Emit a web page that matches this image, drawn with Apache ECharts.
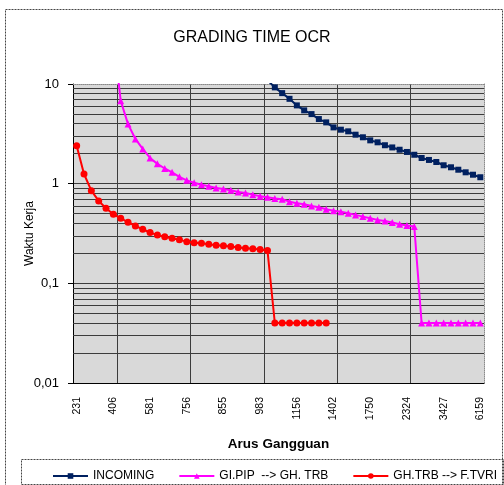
<!DOCTYPE html>
<html>
<head>
<meta charset="utf-8">
<script src="https://cdn.jsdelivr.net/npm/echarts@6/dist/echarts.min.js"></script>
<style>
  html, body { margin: 0; padding: 0; background: #fff; }
  #chart { width: 504px; height: 485px; }
</style>
</head>
<body>
<div id="chart"></div>
<script>
// x axis: 56 categories, label shown on every 5th one
const tickLabels = ['231', '406', '581', '756', '855', '983', '1156', '1402', '1750', '2324', '3427', '6159'];
const categories = [];
for (let i = 0; i < 56; i++) categories.push(String(i));

// minor log grid lines (2..9 of each decade)
const minorGrid = [0.02, 0.03, 0.04, 0.05, 0.06, 0.07, 0.08, 0.09,
  0.2, 0.3, 0.4, 0.5, 0.6, 0.7, 0.8, 0.9,
  2, 3, 4, 5, 6, 7, 8, 9];

const incoming = [
  null, null, null, null, null, null, null, null, null, null,
  null, null, null, null, null, null, null, null, null, null,
  null, null, null, null, null, null,
  10.9, 9.25, 8.1, 7.1, 6.1, 5.44, 4.99, 4.45, 4.12, 3.67,
  3.48, 3.35, 3.10, 2.92, 2.72, 2.60, 2.43, 2.31, 2.19, 2.08,
  1.95, 1.81, 1.73, 1.65, 1.53, 1.46, 1.38, 1.30, 1.23, 1.16
];

const giPip = [
  null, null, null, null, null,
  30, 6.79, 3.96, 2.81, 2.23, 1.81, 1.58, 1.42, 1.30, 1.17,
  1.08, 1.02, 0.977, 0.94, 0.906, 0.885, 0.859, 0.826, 0.807, 0.776,
  0.748, 0.731, 0.711, 0.698, 0.66, 0.636, 0.622, 0.598, 0.58, 0.554,
  0.536, 0.524, 0.505, 0.486, 0.467, 0.45, 0.433, 0.423, 0.407, 0.392,
  0.38, 0.371,
  0.04, 0.04, 0.04, 0.04, 0.04, 0.04, 0.04, 0.04, 0.04
];

const ghTrb = [
  2.40, 1.25, 0.851, 0.671, 0.567, 0.493, 0.45, 0.41, 0.377, 0.349,
  0.323, 0.306, 0.294, 0.284, 0.273, 0.262, 0.256, 0.253, 0.247, 0.241,
  0.238, 0.234, 0.229, 0.225, 0.222, 0.218, 0.213,
  0.04, 0.04, 0.04, 0.04, 0.04, 0.04, 0.04, 0.04,
  null, null, null, null, null, null, null, null, null, null,
  null, null, null, null, null, null, null, null, null, null, null
];

const gridColor = '#3c3c3c';
const chart = echarts.init(document.getElementById('chart'));

chart.setOption({
  animation: false,
  textStyle: { fontFamily: 'Liberation Sans, Arial, sans-serif' },
  title: {
    text: 'GRADING TIME OCR',
    left: 'center',
    top: 25,
    textStyle: { fontSize: 16, fontWeight: 'normal', color: '#000' }
  },
  grid: {
    left: 73, right: 20, top: 84, bottom: 102,
    show: true, backgroundColor: '#d9d9d9', borderWidth: 0
  },
  legend: {
    left: 47, top: 465,
    itemWidth: 35, itemHeight: 7, itemGap: 24,
    textStyle: { fontSize: 12, color: '#000' },
    data: ['INCOMING', 'GI.PIP  --> GH. TRB', 'GH.TRB --> F.TVRI']
  },
  xAxis: [{
    type: 'category',
    boundaryGap: true,
    data: categories,
    name: 'Arus Gangguan',
    nameLocation: 'middle',
    nameGap: 54,
    nameMoveOverlap: false,
    nameTextStyle: { fontSize: 13.5, fontWeight: 'bold', color: '#000' },
    axisLine: { lineStyle: { color: '#000', width: 1 } },
    axisTick: { interval: i => i % 5 === 1, length: 4, lineStyle: { color: '#000' } },
    axisLabel: {
      interval: 4, rotate: 90, margin: 14, fontSize: 10.5, color: '#000',
      formatter: (v, i) => tickLabels[i / 5]
    },
    splitLine: {
      show: true, interval: i => i % 10 === 6, showMaxLine: false,
      lineStyle: { color: gridColor, width: 1 }
    }
  }, {
    type: 'category',
    position: 'top',
    data: categories,
    axisLine: { lineStyle: { color: '#8a8a8a', type: 'dotted' } },
    axisTick: { show: false },
    axisLabel: { show: false },
    splitLine: { show: false }
  }],
  yAxis: [{
    type: 'log',
    logBase: 10,
    min: 0.01,
    max: 10,
    name: 'Waktu Kerja',
    nameLocation: 'middle',
    nameRotate: 90,
    nameGap: 37,
    nameMoveOverlap: false,
    nameTextStyle: { fontSize: 12, color: '#000' },
    axisLine: { show: true, lineStyle: { color: '#000', width: 1 } },
    axisTick: { show: true, length: 5, lineStyle: { color: '#000' } },
    axisLabel: {
      margin: 14, fontSize: 13, color: '#000',
      formatter: v => String(v).replace('.', ',')
    },
    splitLine: {
      show: true, showMinLine: false, showMaxLine: false,
      lineStyle: { color: gridColor, width: 1 }
    }
  }, {
    type: 'log',
    logBase: 10,
    min: 0.01,
    max: 10,
    position: 'right',
    axisLine: { show: true, lineStyle: { color: '#8a8a8a', type: 'dotted' } },
    axisTick: { show: false },
    axisLabel: { show: false },
    splitLine: { show: false }
  }],
  graphic: [{
    type: 'rect',
    shape: { x: 5.5, y: 9.5, width: 497, height: 490 },
    style: { fill: 'none', stroke: '#444', lineWidth: 1, lineDash: [2, 1] },
    silent: true
  }, {
    type: 'rect',
    shape: { x: 21.5, y: 459.5, width: 482, height: 25 },
    style: { fill: 'none', stroke: '#444', lineWidth: 1, lineDash: [2, 1] },
    silent: true
  }],
  series: [{
    name: 'INCOMING',
    type: 'line',
    data: incoming,
    color: '#002060',
    symbol: 'rect',
    symbolSize: 6,
    showAllSymbol: true,
    lineStyle: { width: 2 },
    markLine: {
      silent: true,
      z: 1,
      symbol: ['none', 'none'],
      label: { show: false },
      lineStyle: { color: gridColor, width: 1, type: 'solid' },
      emphasis: { disabled: true },
      data: minorGrid.map(v => ({ yAxis: v }))
    }
  }, {
    name: 'GI.PIP  --> GH. TRB',
    type: 'line',
    data: giPip,
    color: '#ff00ff',
    symbol: 'triangle',
    symbolSize: 7,
    showAllSymbol: true,
    lineStyle: { width: 2 }
  }, {
    name: 'GH.TRB --> F.TVRI',
    type: 'line',
    data: ghTrb,
    color: '#ff0000',
    symbol: 'circle',
    symbolSize: 7,
    showAllSymbol: true,
    lineStyle: { width: 2 }
  }]
});
</script>
</body>
</html>
